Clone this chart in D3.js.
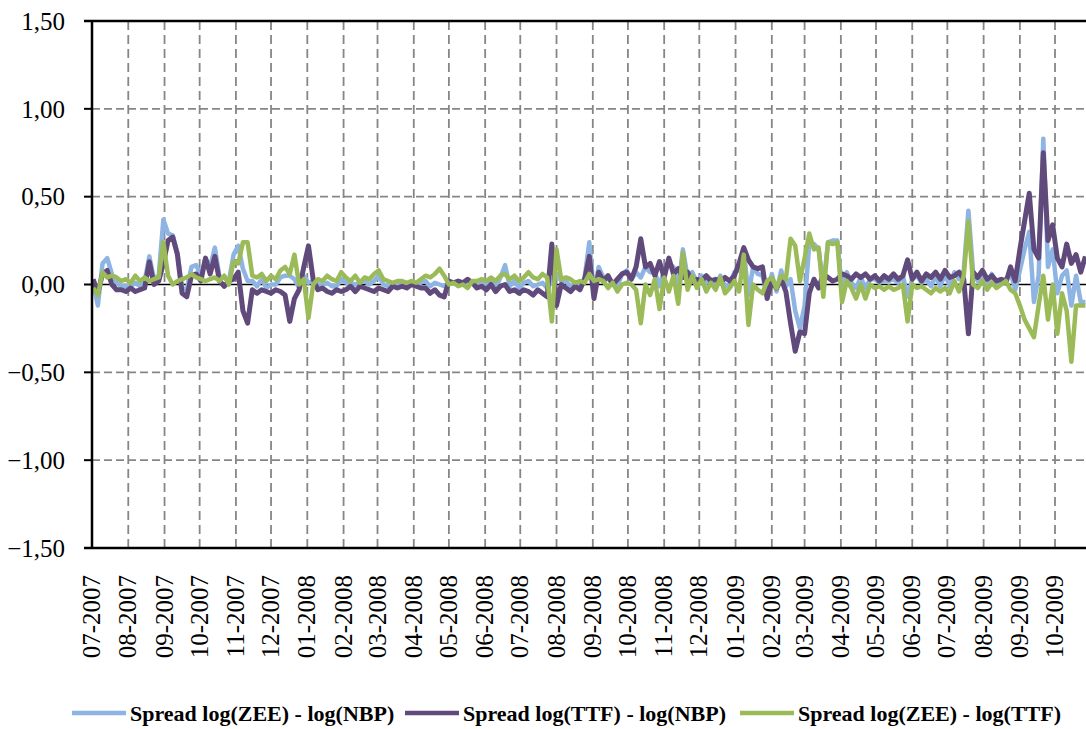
<!DOCTYPE html>
<html>
<head>
<meta charset="utf-8">
<script src="https://cdn.jsdelivr.net/npm/d3@7"></script>
<style>
  body { margin: 0; background: #ffffff; }
  svg text { font-family: "Liberation Serif", "Times New Roman", serif; fill: #000; }
</style>
</head>
<body>
<svg id="chart" width="1086" height="729"></svg>
<script>
// Series labels and colours
const seriesNames = [
  "Spread log(ZEE) - log(NBP)",
  "Spread log(TTF) - log(NBP)",
  "Spread log(ZEE) - log(TTF)"
];
const seriesColors = ["#8db4e2", "#604a7b", "#9bbb59"];

// Observations: first date and spacing in calendar days between samples
const firstObservation = new Date(2007, 6, 2);
const sampleStepDays = 4;

// Spread log(ZEE) - log(NBP)
const spreadZeeNbp = [
  0.01, -0.12, 0.12, 0.15, 0.06, 0.01, -0.01, -0.01, -0.01, 0.01,
  -0.01, 0.02, 0.16, 0.03, 0.05, 0.37, 0.29, 0.28, 0.18, -0.02,
  -0.03, 0.10, 0.11, 0.05, 0.15, 0.10, 0.21, 0.04, 0.04, 0.02,
  0.17, 0.22, 0.09, 0.02, 0.02, -0.01, 0.03, -0.02, 0.00, 0.00,
  0.04, 0.05, 0.05, 0.03, -0.02, 0.05, 0.01, 0.02, 0.00, 0.00,
  0.01, -0.01, -0.01, 0.03, 0.01, 0.01, 0.00, 0.01, 0.02, 0.00,
  0.02, 0.05, 0.00, -0.01, 0.00, 0.00, 0.01, 0.00, 0.01, 0.00,
  0.01, 0.02, -0.01, 0.01, 0.00, -0.01, 0.01, 0.01, 0.01, 0.01,
  0.01, 0.01, 0.00, 0.01, -0.01, 0.02, -0.02, 0.04, 0.11, -0.01,
  0.02, -0.02, 0.01, 0.02, -0.01, 0.00, 0.01, -0.02, 0.02, 0.06,
  0.02, 0.02, -0.01, 0.00, -0.01, 0.04, 0.24, -0.05, 0.10, 0.04,
  0.03, 0.01, -0.01, 0.06, 0.08, 0.03, 0.07, 0.04, 0.10, 0.07,
  0.07, -0.01, 0.08, 0.12, 0.10, -0.02, 0.20, 0.04, 0.07, 0.01,
  0.05, 0.01, 0.03, 0.00, 0.05, -0.01, 0.00, 0.07, 0.08, 0.20,
  -0.06, 0.10, 0.06, 0.05, -0.06, 0.06, -0.04, 0.08, -0.01, 0.03,
  -0.15, -0.25, -0.12, 0.23, 0.23, 0.20, -0.01, 0.24, 0.25, 0.25,
  -0.04, 0.07, 0.01, -0.02, 0.04, -0.02, 0.03, 0.03, 0.01, 0.02,
  0.02, 0.03, 0.01, 0.05, -0.07, 0.03, 0.05, 0.01, 0.03, -0.01,
  0.05, -0.01, 0.06, -0.01, 0.07, 0.03, 0.08, 0.42, 0.07, 0.02,
  0.06, 0.00, 0.06, 0.00, 0.03, 0.03, 0.07, -0.03, 0.08, 0.20,
  0.30, -0.10, 0.05, 0.83, 0.10, 0.20, -0.05, 0.05, 0.08, -0.12,
  0.05, -0.10, -0.10
];

// Spread log(TTF) - log(NBP)
const spreadTtfNbp = [
  0.03, -0.05, 0.06, 0.08, 0.00, -0.03, -0.03, -0.04, -0.02, -0.04,
  -0.03, -0.02, 0.13, 0.00, 0.02, 0.12, 0.25, 0.27, 0.17, -0.05,
  -0.07, 0.05, 0.06, 0.02, 0.15, 0.06, 0.16, 0.02, -0.01, 0.02,
  0.03, 0.07, -0.15, -0.22, -0.03, -0.05, -0.03, -0.04, -0.05, -0.03,
  -0.04, -0.06, -0.21, -0.08, -0.03, 0.10, 0.22, 0.03, -0.03, -0.02,
  -0.04, -0.05, -0.03, -0.04, -0.03, -0.01, -0.04, -0.01, -0.02, -0.03,
  -0.04, -0.02, -0.03, -0.04, -0.01, -0.02, -0.01, -0.02, 0.00, -0.01,
  -0.02, -0.02, -0.05, -0.03, -0.06, -0.07, 0.02, 0.01, 0.02, 0.01,
  0.03, 0.01, -0.02, -0.01, -0.03, 0.00, -0.04, -0.01, 0.00, -0.04,
  -0.03, -0.05, -0.03, -0.04, -0.06, -0.03, -0.05, -0.07, 0.23, -0.12,
  0.00, -0.02, -0.04, -0.01, -0.03, 0.03, 0.16, -0.08, 0.07, 0.02,
  0.05, 0.00, 0.03, 0.06, 0.07, 0.03, 0.10, 0.26, 0.10, 0.12,
  0.05, 0.13, 0.04, 0.15, 0.06, 0.09, 0.04, 0.07, 0.02, 0.03,
  0.02, 0.05, 0.02, 0.03, 0.01, 0.04, 0.02, 0.05, 0.12, 0.21,
  0.14, 0.10, 0.09, 0.10, -0.08, 0.02, -0.02, 0.03, -0.04, -0.22,
  -0.38, -0.27, -0.28, -0.05, 0.03, -0.02, 0.06, 0.04, 0.02, 0.03,
  0.06, 0.05, 0.03, 0.06, 0.04, 0.06, 0.03, 0.05, 0.02, 0.05,
  0.03, 0.06, 0.03, 0.05, 0.14, 0.03, 0.07, 0.02, 0.06, 0.04,
  0.07, 0.03, 0.08, 0.04, 0.05, 0.07, 0.03, -0.28, 0.07, 0.04,
  0.08, 0.03, 0.05, 0.02, 0.03, 0.01, 0.10, 0.02, 0.20, 0.36,
  0.52, 0.20, 0.15, 0.75, 0.25, 0.34, 0.15, 0.10, 0.23, 0.12,
  0.17, 0.07, 0.16
];

// Spread log(ZEE) - log(TTF)
const spreadZeeTtf = [
  -0.02, -0.06, 0.07, 0.04, 0.05, 0.04, 0.02, 0.03, 0.01, 0.05,
  0.02, 0.04, 0.02, 0.03, 0.04, 0.24, 0.05, 0.00, 0.02, 0.03,
  0.04, 0.06, 0.04, 0.03, 0.02, 0.03, 0.04, 0.02, 0.05, 0.00,
  0.13, 0.12, 0.24, 0.24, 0.05, 0.04, 0.06, 0.02, 0.05, 0.03,
  0.08, 0.10, 0.06, 0.17, 0.00, 0.03, -0.19, 0.00, 0.03, 0.02,
  0.05, 0.03, 0.02, 0.07, 0.04, 0.02, 0.05, 0.01, 0.04, 0.03,
  0.06, 0.08, 0.03, 0.02, 0.01, 0.02, 0.02, 0.01, 0.02, 0.01,
  0.03, 0.05, 0.04, 0.06, 0.09, 0.05, 0.00, 0.01, -0.01, 0.00,
  -0.02, 0.02, 0.02, 0.03, 0.02, 0.04, 0.02, 0.05, 0.06, 0.03,
  0.05, 0.02, 0.04, 0.07, 0.04, 0.03, 0.06, 0.04, -0.21, 0.20,
  0.03, 0.04, 0.03, 0.01, 0.02, 0.01, 0.06, 0.02, 0.03, 0.02,
  -0.02, 0.01, -0.04, 0.00, 0.01, 0.00, -0.03, -0.22, 0.00, -0.06,
  0.03, -0.14, 0.04, -0.04, 0.05, -0.11, 0.18, -0.03, 0.05, -0.02,
  0.03, -0.04, 0.01, -0.03, 0.04, -0.05, -0.02, 0.02, -0.04, 0.17,
  -0.23, 0.00, -0.03, -0.05, 0.02, 0.04, -0.02, 0.05, 0.03, 0.26,
  0.22, 0.02, 0.15, 0.29, 0.20, 0.21, -0.07, 0.24, 0.23, 0.24,
  -0.10, 0.02, -0.02, -0.08, 0.00, -0.08, 0.00, -0.02, -0.01, -0.03,
  -0.01, -0.03, -0.02, 0.00, -0.21, 0.00, -0.02, -0.01, -0.03, -0.05,
  -0.02, -0.04, -0.02, -0.05, 0.02, -0.04, 0.05, 0.36, 0.00, -0.02,
  0.02, -0.03, 0.01, -0.02, 0.00, 0.02, -0.03, -0.05, -0.12, -0.20,
  -0.25, -0.30, -0.12, 0.05, -0.20, 0.00, -0.28, -0.05, -0.15, -0.44,
  -0.12, -0.12, -0.12
];

// Value axis ticks
const yTickValues = [1.5, 1.0, 0.5, 0.0, -0.5, -1.0, -1.5];

const seriesValues = [spreadZeeNbp, spreadTtfNbp, spreadZeeTtf];
const dates = spreadZeeNbp.map((_, i) => d3.timeDay.offset(firstObservation, i * sampleStepDays));

const svg = d3.select("#chart");
const plot = { left: 92, top: 21, right: 1086, bottom: 548 };

// Time scale: one month ≈ 35.7 px, first label at the axis
const x = d3.scaleTime()
  .domain([new Date(2007, 6, 1), new Date(2009, 9, 1)])
  .range([92, 1055]);
const y = d3.scaleLinear().domain([-1.5, 1.5]).range([plot.bottom, plot.top]);

const months = d3.timeMonth.range(new Date(2007, 6, 1), new Date(2009, 10, 1));
const fmtValue = v => d3.format(".2f")(v).replace(".", ",");
const fmtMonth = d3.timeFormat("%m-%Y");

const gridColor = "#868686";

// Horizontal dashed gridlines
svg.append("g")
  .selectAll("line")
  .data(yTickValues.filter(v => Math.abs(v) < 1.5 && v !== 0))
  .join("line")
  .attr("x1", plot.left).attr("x2", plot.right)
  .attr("y1", d => y(d)).attr("y2", d => y(d))
  .attr("stroke", gridColor).attr("stroke-width", 1.8)
  .attr("stroke-dasharray", "8,4");

// Vertical dashed gridlines at month starts
svg.append("g")
  .selectAll("line")
  .data(months.slice(1))
  .join("line")
  .attr("x1", d => x(d)).attr("x2", d => x(d))
  .attr("y1", plot.top).attr("y2", plot.bottom)
  .attr("stroke", gridColor).attr("stroke-width", 1.8)
  .attr("stroke-dasharray", "9,5");

// Zero line
svg.append("line")
  .attr("x1", plot.left).attr("x2", plot.right)
  .attr("y1", y(0)).attr("y2", y(0))
  .attr("stroke", "#000").attr("stroke-width", 1.5);

// Series lines
svg.append("clipPath").attr("id", "plot-clip")
  .append("rect")
  .attr("x", plot.left).attr("y", plot.top)
  .attr("width", plot.right - plot.left).attr("height", plot.bottom - plot.top);

const line = d3.line()
  .x((d, i) => x(dates[i]))
  .y(d => y(d));

svg.append("g").attr("clip-path", "url(#plot-clip)")
  .selectAll("path")
  .data(seriesValues)
  .join("path")
  .attr("d", d => line(d))
  .attr("fill", "none")
  .attr("stroke", (d, i) => seriesColors[i])
  .attr("stroke-width", (d, i) => i === 1 ? 5 : 4.5)
  .attr("stroke-linejoin", "round");

// Frame: value axis, top and bottom borders
const frame = svg.append("g").attr("stroke", "#000").attr("stroke-width", 2.5);
frame.append("line").attr("x1", plot.left).attr("x2", plot.left).attr("y1", plot.top - 1).attr("y2", plot.bottom + 1);
frame.append("line").attr("x1", plot.left - 8).attr("x2", plot.right).attr("y1", plot.top).attr("y2", plot.top);
frame.append("line").attr("x1", plot.left - 8).attr("x2", plot.right).attr("y1", plot.bottom).attr("y2", plot.bottom);

// Value axis ticks and labels
const yAxis = svg.append("g");
yAxis.selectAll("line")
  .data(yTickValues)
  .join("line")
  .attr("x1", plot.left - 8).attr("x2", plot.left)
  .attr("y1", d => y(d)).attr("y2", d => y(d))
  .attr("stroke", "#000").attr("stroke-width", 2);
yAxis.selectAll("text")
  .data(yTickValues)
  .join("text")
  .attr("x", 65).attr("y", d => y(d))
  .attr("dy", "0.35em")
  .attr("text-anchor", "end")
  .style("font-size", "25px")
  .text(fmtValue);

// Month labels, rotated
svg.append("g")
  .selectAll("text")
  .data(months.filter(d => x(d) <= plot.right))
  .join("text")
  .attr("transform", d => `translate(${x(d) + 8},575) rotate(-90)`)
  .attr("text-anchor", "end")
  .style("font-size", "25px")
  .text(fmtMonth);

// Legend
const legendX = [72, 405, 740];
const legend = svg.append("g");
seriesNames.forEach((name, i) => {
  const g = legend.append("g").attr("transform", `translate(${legendX[i]},713)`);
  g.append("line").attr("x1", 0).attr("x2", 54).attr("y1", 0).attr("y2", 0)
    .attr("stroke", seriesColors[i]).attr("stroke-width", 4.5);
  g.append("text").attr("x", 58).attr("y", 8)
    .style("font-size", "22px").style("font-weight", "bold")
    .text(name);
});
</script>
</body>
</html>
